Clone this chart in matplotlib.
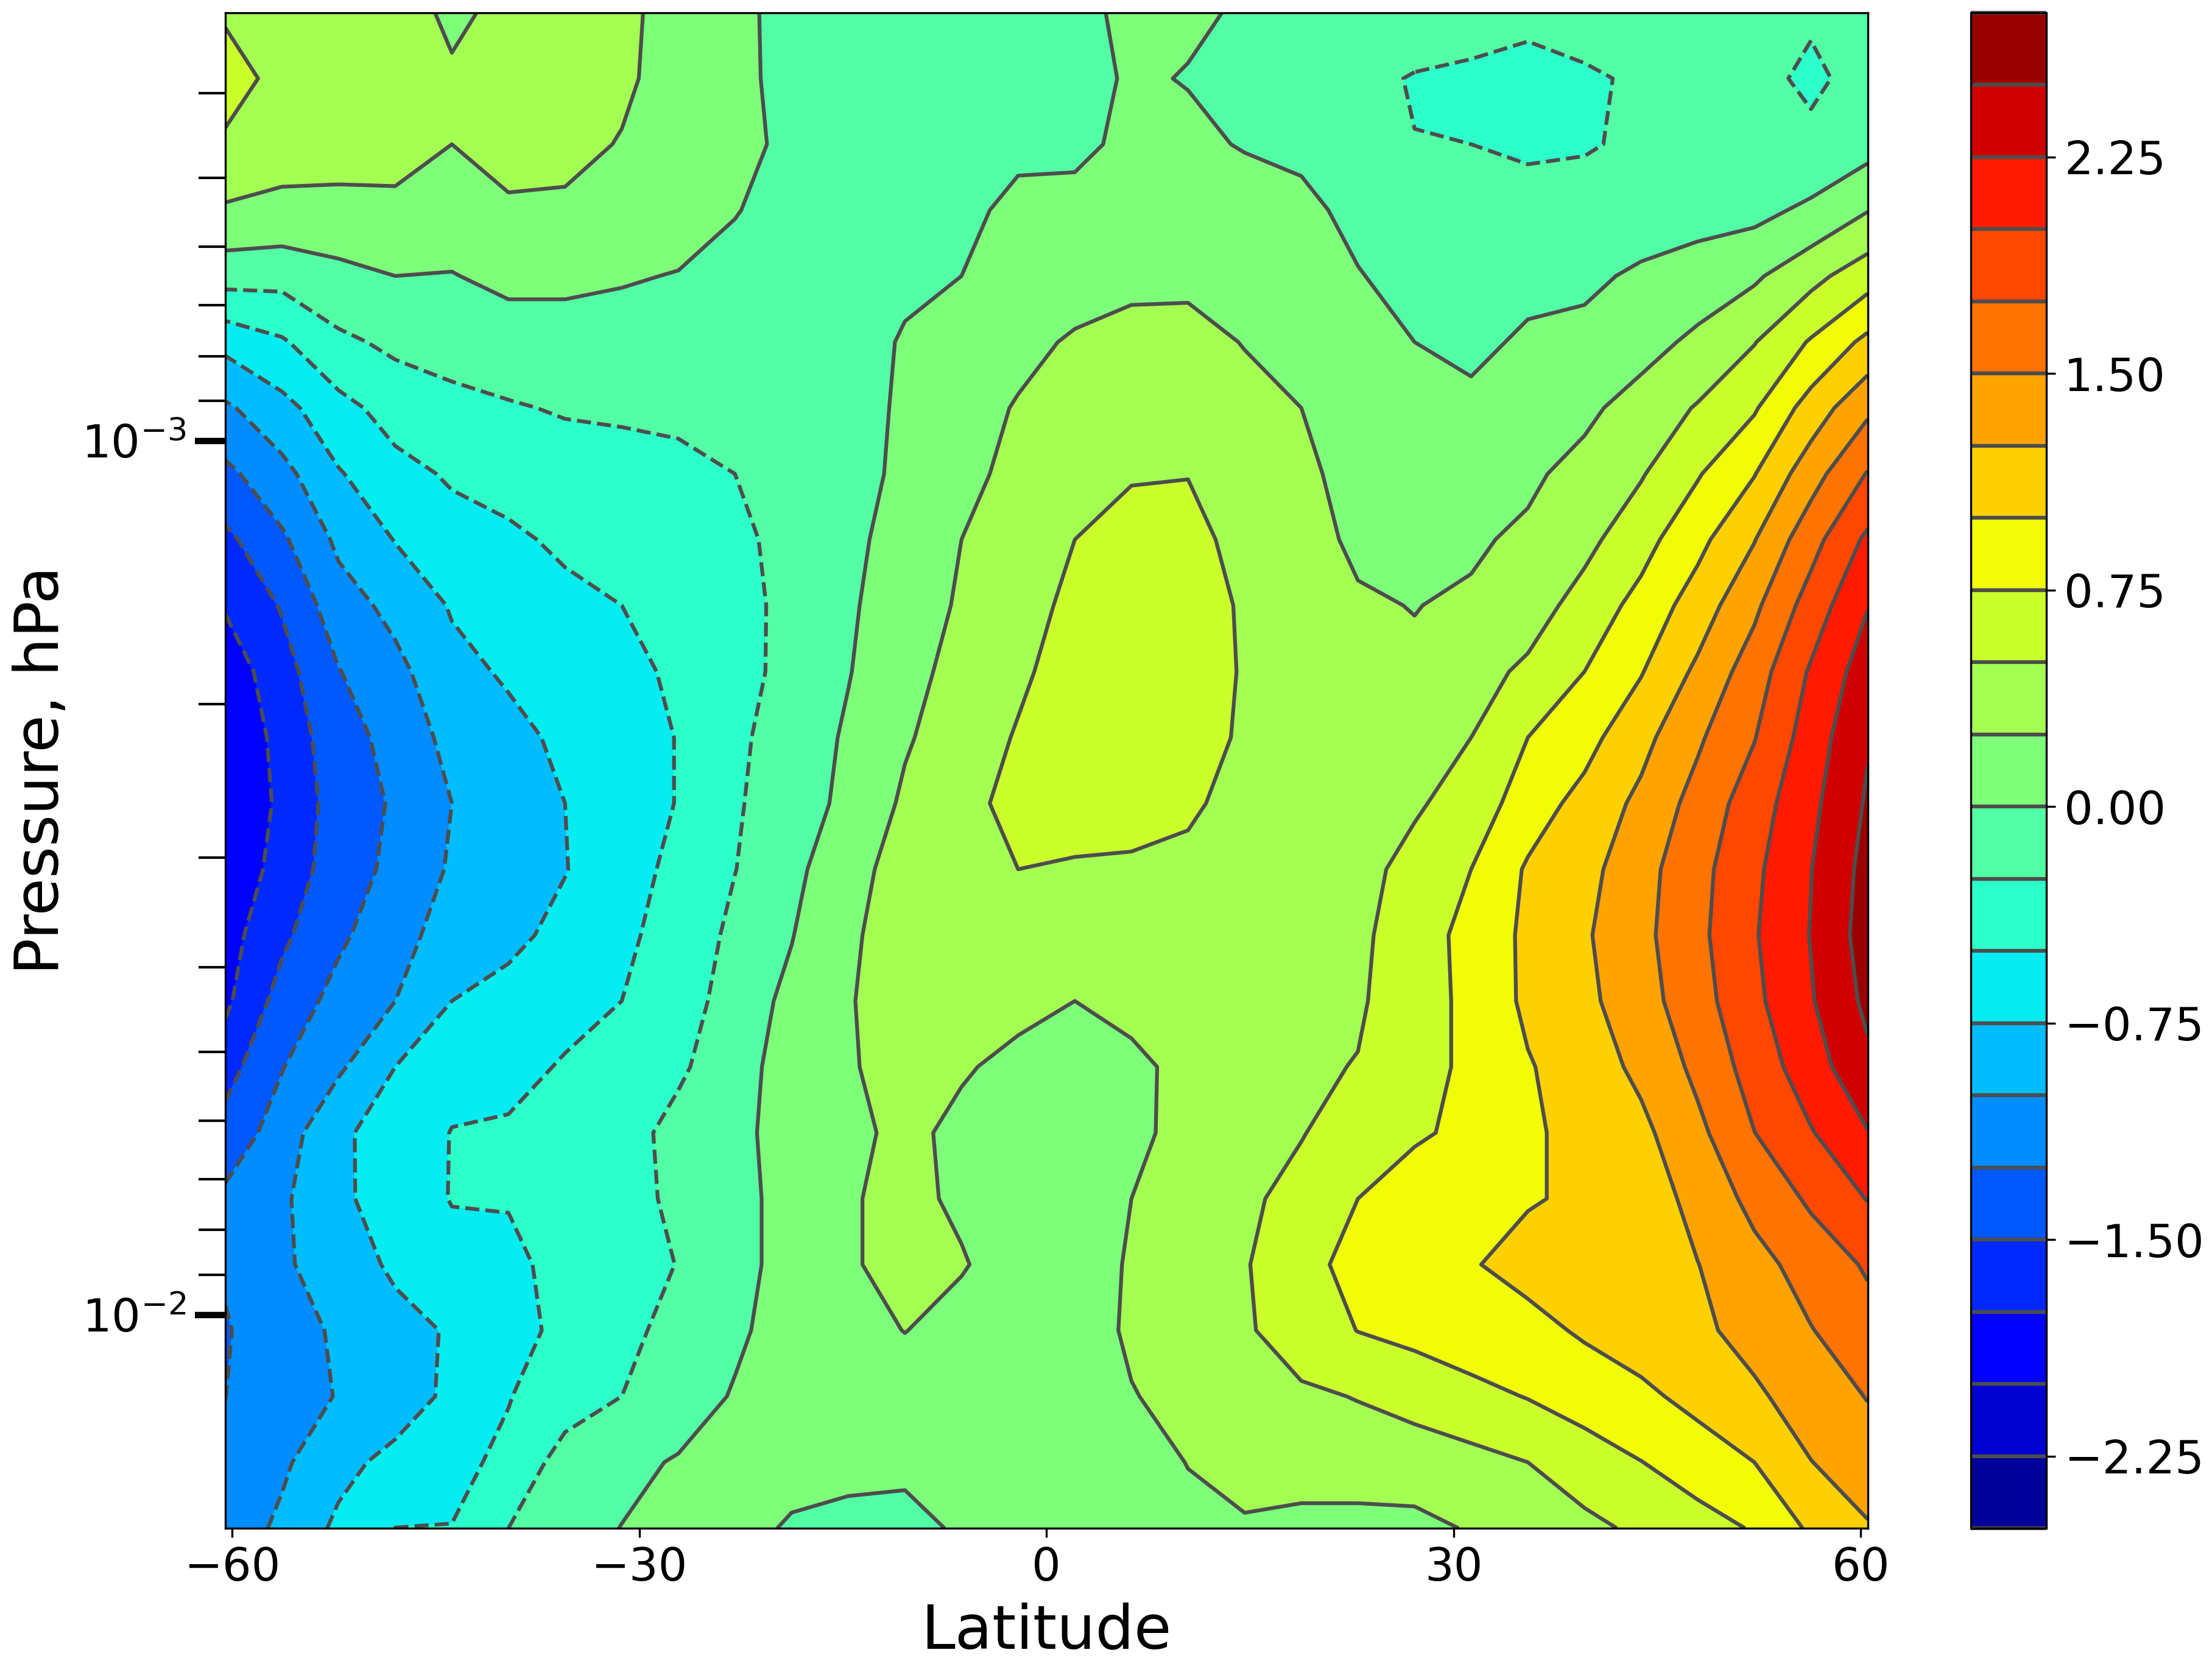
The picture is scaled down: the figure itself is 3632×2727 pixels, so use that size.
"""Latitude-pressure filled contour with a jet colorbar."""
import numpy as np
import matplotlib
matplotlib.use("Agg")
import matplotlib.pyplot as plt
from matplotlib.ticker import NullFormatter

lat = [-60.5, -56.33, -52.16, -47.98, -43.81, -39.64, -35.47, -31.29, -27.12, -22.95,
       -18.78, -14.60, -10.43, -6.26, -2.09, 2.09, 6.26, 10.43, 14.60, 18.78,
       22.95, 27.12, 31.29, 35.47, 39.64, 43.81, 47.98, 52.16, 56.33, 60.5]

pressure = [3.236e-4, 3.849e-4, 4.578e-4, 5.445e-4, 6.477e-4, 7.709e-4, 9.170e-4, 1.091e-3,
            1.297e-3, 1.543e-3, 1.837e-3, 2.185e-3, 2.599e-3, 3.092e-3, 3.678e-3, 4.375e-3,
            5.204e-3, 6.191e-3, 7.365e-3, 8.760e-3, 1.042e-2, 1.240e-2, 1.475e-2, 1.755e-2]

levels = [-2.5, -2.25, -2.0, -1.75, -1.5, -1.25, -1.0, -0.75, -0.5, -0.25, 0.0,
          0.25, 0.5, 0.75, 1.0, 1.25, 1.5, 1.75, 2.0, 2.25, 2.5, 2.75]
cbar_ticks = [-2.25, -1.5, -0.75, 0.0, 0.75, 1.5, 2.25]
lat_ticks = [-60, -30, 0, 30, 60]

# one row per pressure level, top of the plot first
field = [
    [.47, .40, .40, .367, .20, .314, .33, .30, .167, .03, -.04, -.1, -.12, -.12, -.1, -.06, .05, .03, -.02, -.08, -.1, -.12, -.14, -.2, -.19, -.17, -.15, -.17, -.223, -.15],
    [.61, .42, .41, .38, .285, .38, .40, .28, .18, .05, -.06, -.12, -.14, -.14, -.12, -.08, .027, -.01, -.06, -.1, -.19, -.265, -.30, -.32, -.27, -.23, -.20, -.19, -.29, -.176],
    [.46, .35, .35, .33, .25, .30, .30, .24, .18, .065, -.05, -.12, -.15, -.15, -.10, -.05, .05, .05, -.016, -.06, -.1, -.245, -.25, -.27, -.27, -.21, -.17, -.15, -.20, -.09],
    [.22, .19, .18, .20, .13, .23, .22, .15, .10, .01, -.08, -.12, -.13, -.12, .12, .074, .13, .14, .12, .07, -.077, -.18, -.2, -.2, -.15, -.13, -.1, -.07, .05, .24],
    [-.15, -.17, -.07, .00, -.01, .06, .05, .02, -.01, -.07, -.14, -.15, -.06, .0, .1, .14, .2, .2, .16, .11, .015, -.10, -.15, -.07, -.05, .04, .12, .213, .425, .645],
    [-.68, -.53, -.30, -.20, -.14, -.12, -.10, -.10, -.07, -.12, -.16, -.14, .03, .1, .18, .28, .32, .33, .24, .18, .1, 0, -.06, .04, .07, .165, .30, .49, .775, 1.065],
    [-1.04, -.83, -.58, -.40, -.33, -.27, -.23, -.22, -.21, -.18, -.17, -.13, .05, .14, .27, .34, .38, .39, .33, .25, .15, .10, .06, .12, .2, .346, .52, .724, 1.11, 1.45],
    [-1.31, -1.08, -.77, -.58, -.47, -.42, -.36, -.33, -.30, -.25, -.17, -.12, .07, .2, .3, .4, .49, .495, .37, .28, .2, .15, .13, .21, .325, .48, .73, .99, 1.40, 1.765],
    [-1.56, -1.29, -.95, -.74, -.60, -.54, -.46, -.41, -.37, -.30, -.18, -.06, .10, .25, .38, .50, .55, .56, .437, .31, .22, .2, .22, .29, .43, .66, .93, 1.24, 1.66, 2.05],
    [-1.73, -1.48, -1.11, -.93, -.73, -.63, -.56, -.50, -.41, -.33, -.185, -.03, .12, .28, .45, .53, .62, .62, .47, .35, .27, .245, .28, .38, .60, .83, 1.12, 1.45, 1.86, 2.24],
    [-1.90, -1.60, -1.26, -1.07, -.82, -.72, -.63, -.58, -.45, -.32, -.19, -.01, .15, .35, .46, .6, .62, .62, .48, .40, .32, .28, .40, .55, .75, .985, 1.30, 1.63, 2.03, 2.38],
    [-1.97, -1.67, -1.35, -1.17, -.92, -.82, -.70, -.62, -.49, -.30, -.13, .03, .225, .37, .52, .57, .6, .6, .468, .42, .38, .42, .5, .75, .917, 1.174, 1.464, 1.74, 2.12, 2.48],
    [-1.98, -1.70, -1.39, -1.22, -1.0, -.875, -.75, -.62, -.49, -.28, -.1, .05, .29, .44, .56, .58, .6, .57, .35, .33, .37, .47, .6, .88, 1.08, 1.31, 1.59, 1.88, 2.19, 2.53],
    [-1.93, -1.66, -1.37, -1.19, -.97, -.83, -.76, -.58, -.45, -.255, -.07, .18, .33, .42, .50, .48, .46, .39, .33, .30, .42, .58, .75, 1.03, 1.17, 1.41, 1.67, 1.95, 2.245, 2.58],
    [-1.85, -1.55, -1.29, -1.11, -.87, -.82, -.67, -.54, -.42, -.19, -.01, .22, .34, .40, .44, .46, .44, .40, .36, .35, .45, .63, .83, 1.05, 1.22, 1.434, 1.69, 1.98, 2.26, 2.61],
    [-1.80, -1.40, -1.17, -1.0, -.75, -.65, -.57, -.50, -.38, -.13, .06, .24, .32, .33, .30, .25, .31, .32, .33, .37, .47, .64, .81, 1.05, 1.19, 1.40, 1.65, 1.945, 2.23, 2.557],
    [-1.60, -1.26, -1.04, -.75, -.60, -.57, -.48, -.40, -.29, -.10, .11, .24, .29, .27, .2, .21, .2, .31, .36, .46, .51, .64, .81, .98, 1.13, 1.304, 1.558, 1.856, 2.138, 2.443],
    [-1.40, -1.14, -.77, -.70, -.49, -.47, -.38, -.35, -.17, -.07, .11, .2, .3, .2, .13, .16, .19, .33, .42, .49, .6, .72, .8, .965, 1.07, 1.19, 1.44, 1.747, 1.983, 2.24],
    [-1.20, -1.04, -.80, -.63, -.49, -.49, -.36, -.32, -.21, -.08, .09, .24, .28, .23, .17, .17, .25, .36, .46, .57, .75, .87, .93, .985, 1.03, 1.11, 1.33, 1.57, 1.79, 2.01],
    [-1.22, -1.03, -.90, -.70, -.58, -.54, -.446, -.32, -.245, -.08, .09, .24, .28, .26, .19, .15, .27, .36, .48, .68, .82, .87, .985, 1.07, 1.08, 1.15, 1.245, 1.42, 1.60, 1.78],
    [-1.27, -1.10, -.967, -.85, -.72, -.60, -.43, -.30, -.19, -.04, .1, .2, .253, .2, .16, .15, .28, .36, .47, .62, .755, .82, .88, .93, 1.03, 1.11, 1.205, 1.33, 1.49, 1.65],
    [-1.252, -1.09, -.99, -.87, -.70, -.51, -.37, -.25, -.12, .02, .08, .13, .17, .16, .14, .15, .24, .31, .39, .46, .51, .58, .68, .76, .857, .95, 1.07, 1.21, 1.365, 1.51],
    [-1.20, -1.04, -.82, -.68, -.56, -.45, -.14, -.06, .02, .07, .08, .077, .047, .06, .09, .12, .17, .255, .31, .34, .37, .38, .42, .5, .624, .745, .87, 1.0, 1.245, 1.377],
    [-1.15, -.95, -.70, -.498, -.495, -.25, -.09, .005, .06, .08, -.027, -.08, -.07, .03, .1, .13, .17, .2, .23, .19, .17, .18, .27, .35, .44, .545, .65, .77, 1.04, 1.228],
]


def main():
    fig = plt.figure(figsize=(3632 / 300, 2727 / 300), dpi=300)
    W, H = 3632, 2727
    ax = fig.add_axes([370 / W, 1 - 2509 / H, (3066.5 - 370) / W, (2509 - 20.7) / H])
    cax = fig.add_axes([3236 / W, 1 - 2509 / H, (3360 - 3236) / W, (2509 - 20.7) / H])

    z = np.array(field)
    cf = ax.contourf(lat, pressure, z, levels=levels, cmap="jet")
    cl = ax.contour(lat, pressure, z, levels=levels, colors="#4d4d4d", linewidths=1.5)

    ax.set_yscale("log")
    ax.set_xlim(-60.5, 60.5)
    ax.set_ylim(1.755e-2, 3.236e-4)
    ax.set_xticks(lat_ticks)
    ax.yaxis.set_minor_formatter(NullFormatter())
    ax.tick_params(axis="both", which="major", labelsize=18)
    ax.tick_params(axis="y", which="major", length=12, width=2.5)
    ax.tick_params(axis="y", which="minor", length=10.5, width=1)
    ax.set_xlabel("Latitude", fontsize=24, labelpad=4.5)
    ax.set_ylabel("Pressure, hPa", fontsize=24)

    cbar = fig.colorbar(cf, cax=cax, ticks=cbar_ticks)
    cbar.add_lines(cl)
    cbar.ax.tick_params(labelsize=18)

    fig.savefig("out.png", dpi=300)
    plt.close(fig)


if __name__ == "__main__":
    main()
